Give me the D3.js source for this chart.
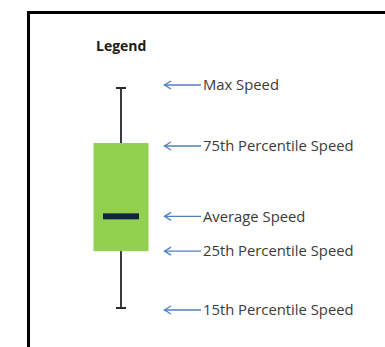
<!DOCTYPE html>
<html><head><meta charset="utf-8">
<script src="https://cdn.jsdelivr.net/npm/d3@7"></script>
<style>html,body{margin:0;padding:0;background:#fff;}svg{display:block;}</style>
</head><body>
<script>
const title = "Legend";
const statKeys = ["max", "p75", "avg", "p25", "p15"];
const statLabels = ["Max Speed", "75th Percentile Speed", "Average Speed", "25th Percentile Speed", "15th Percentile Speed"];
const statValues = [80, 65, 45, 35.5, 20];

const W = 385, H = 347;
const svg = d3.select("body").append("svg").attr("width", W).attr("height", H);
svg.append("rect").attr("width", W).attr("height", H).attr("fill", "#fff");

// frame
svg.append("path").attr("d", `M28.5,${H} V12.5 H${W}`).attr("fill", "none").attr("stroke", "#000").attr("stroke-width", 3);

const y = d3.scaleLinear().domain([20, 80]).range([308, 88]);
const v = Object.fromEntries(statKeys.map((k, i) => [k, statValues[i]]));
const cx = 121, boxW = 55, capW = 10, avgW = 36;

svg.append("text").attr("x", 96).attr("y", 51).text(title)
  .attr("font-family", "Open Sans, sans-serif").attr("font-weight", "bold").attr("font-size", 14).attr("fill", "#1a1a1a");

// whisker
svg.append("line").attr("x1", cx).attr("x2", cx).attr("y1", y(v.max)).attr("y2", y(v.p15))
  .attr("stroke", "#3a3a3a").attr("stroke-width", 2);
[v.max, v.p15].forEach(val => {
  svg.append("line").attr("x1", cx - capW / 2).attr("x2", cx + capW / 2).attr("y1", y(val)).attr("y2", y(val))
    .attr("stroke", "#2a2a2a").attr("stroke-width", 2);
});
// box
svg.append("rect").attr("x", cx - boxW / 2).attr("width", boxW).attr("y", y(v.p75)).attr("height", y(v.p25) - y(v.p75))
  .attr("fill", "#92d050");
// average
svg.append("rect").attr("x", cx - avgW / 2).attr("width", avgW).attr("y", y(v.avg) - 3).attr("height", 6)
  .attr("fill", "#0f2540");

// arrows & labels
const nudge = [-3, 3, 0, 0, 2];
const g = svg.append("g");
statValues.forEach((val, i) => {
  const yy = y(val) + nudge[i];
  g.append("line").attr("x1", 164).attr("x2", 201).attr("y1", yy).attr("y2", yy)
    .attr("stroke", "#4f81bd").attr("stroke-width", 1.3);
  g.append("path").attr("d", `M171,${yy - 4} L164.5,${yy} L171,${yy + 4}`)
    .attr("fill", "none").attr("stroke", "#4f81bd").attr("stroke-width", 1.3);
  g.append("text").attr("x", 203).attr("y", yy).attr("dy", "0.36em").text(statLabels[i])
    .attr("font-family", "Open Sans, sans-serif").attr("font-size", 14.8).attr("fill", "#3a3a3a");
});
</script>
</body></html>
